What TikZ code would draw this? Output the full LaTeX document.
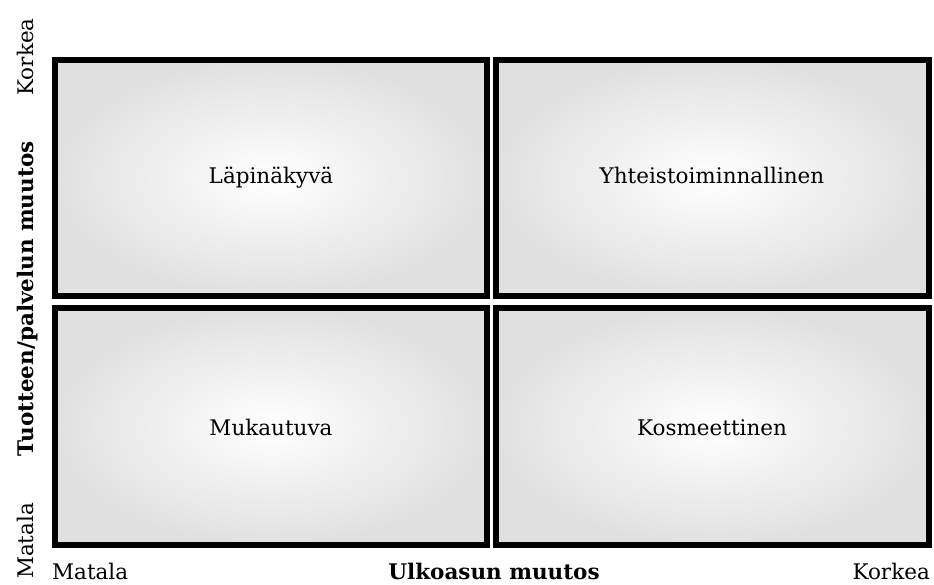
\documentclass[tikz,border=0pt]{standalone}
\usepackage{fontspec}
\setmainfont{DejaVu Serif}
\begin{document}
\begin{tikzpicture}[x=1pt,y=-1pt,
  quad/.style={line width=6pt, draw=black, inner color=white, outer color=black!12},
  qlabel/.style={font=\fontsize{21.5}{25}\selectfont, anchor=base, inner sep=0pt},
  axlabel/.style={font=\fontsize{21.5}{25}\selectfont, inner sep=0pt},
  axtitle/.style={font=\fontsize{21.5}{25}\selectfont\bfseries, inner sep=0pt}]
\useasboundingbox (0,0) rectangle (934,585);
\shade[quad] (55,60) rectangle (487,296);
\shade[quad] (496,60) rectangle (929,296);
\shade[quad] (55,308) rectangle (487,545);
\shade[quad] (496,308) rectangle (929,545);
\node[qlabel] (lap) at (271,184) {Läpinäkyvä};
\node[qlabel] (yht) at (712,184) {Yhteistoiminnallinen};
\node[qlabel] (muk) at (271,435) {Mukautuva};
\node[qlabel] (kos) at (712,435) {Kosmeettinen};
\node[axlabel, anchor=base west] (xlo) at (52,579) {Matala};
\node[axtitle, anchor=base] (xt) at (494,579) {Ulkoasun muutos};
\node[axlabel, anchor=base east] (xhi) at (930,579) {Korkea};
\node[axlabel, rotate=90, anchor=base] (yhi) at (33,57) {Korkea};
\node[axtitle, rotate=90, anchor=base] (yt) at (33,299) {Tuotteen/palvelun muutos};
\node[axlabel, rotate=90, anchor=base] (ylo) at (33,541) {Matala};
\end{tikzpicture}
\end{document}
